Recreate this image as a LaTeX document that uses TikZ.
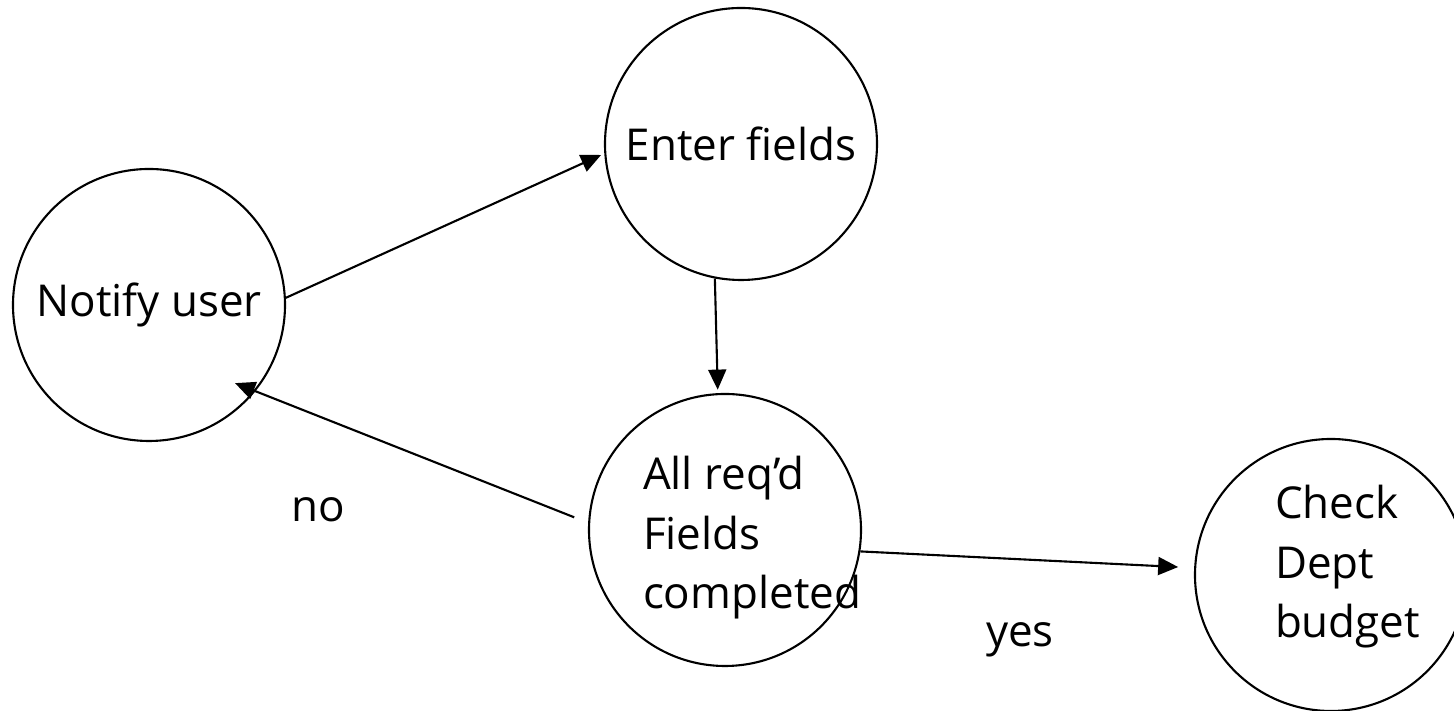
\documentclass[tikz,border=0pt]{standalone}
\usepackage{fontspec}
\setmainfont{Open Sans}
\usetikzlibrary{arrows.meta,automata}

\begin{document}
\begin{tikzpicture}[shorten >=1pt, line width=0.6pt, font=\fontsize{12.5}{17}\selectfont,
  every state/.style={draw, line width=0.6pt, minimum size=2.72cm, inner sep=0pt},
  lbl/.style={inner sep=0pt, align=left}]
\useasboundingbox (0,0) rectangle (14.54,7.11);

  \node[state]		   (notify) at (1.49,4.06)         {Notify user};
  \node[state]		   (enter) at (7.41,5.67)          {Enter fields};
  \node[state]		   (allreq) at (7.25,1.81)         {};
  \node[state]		   (check) at (13.31,1.36)         {};
  \node[lbl, anchor=north west]  (allreqtxt) at (6.42,2.56)  {All req’d\\Fields\\completed};
  \node[lbl, anchor=north west]  (checktxt) at (12.74,2.27)  {Check\\Dept\\budget};
  \node[lbl, anchor=base]   (no) at (3.18,1.89)        {no};
  \node[lbl, anchor=base]   (yes) at (10.20,0.64)      {yes};

  \path[-{Triangle[length=0.2cm,width=0.18cm]}]
		(notify.3.8) edge              node {} (enter.184.6)
        (enter.259.8) edge             node {} (allreq.93.3)
        (allreq.177) edge[shorten <=0.15cm, shorten >=-0.22cm] node {} (notify.-39.4)
        (allreq.-9.6) edge[shorten >=0.16cm] node {} (check.177.7);
\end{tikzpicture}
\end{document}
